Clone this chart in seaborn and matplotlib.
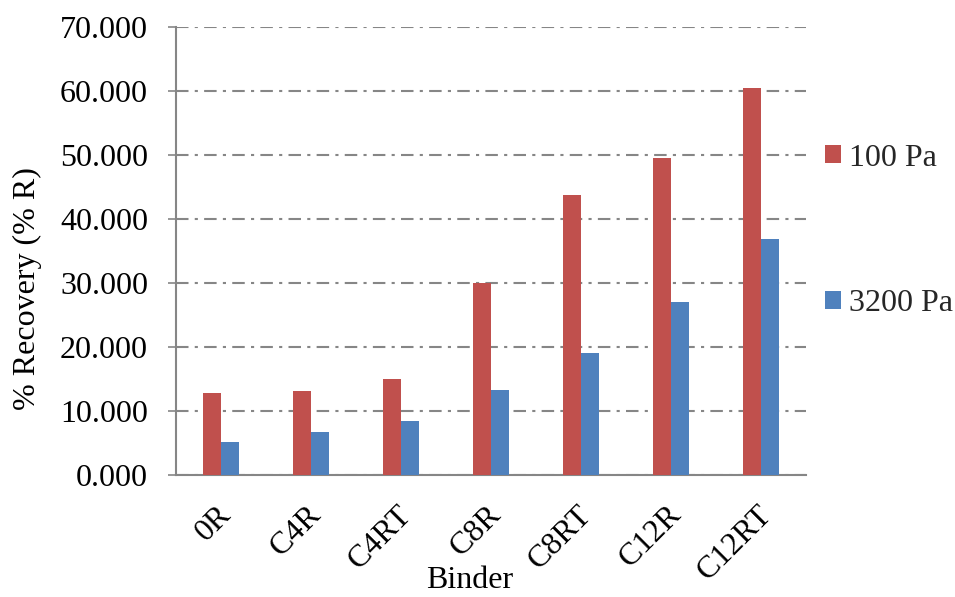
import matplotlib
matplotlib.use("Agg")
import matplotlib.pyplot as plt
import matplotlib.transforms as mtransforms
import seaborn as sns
import pandas as pd
from matplotlib.ticker import FormatStrFormatter

binders = ["0R", "C4R", "C4RT", "C8R", "C8RT", "C12R", "C12RT"]
series_names = ["100 Pa", "3200 Pa"]
vals_100 = [12.8, 13.1, 15.0, 30.0, 43.8, 49.5, 60.5]
vals_3200 = [5.1, 6.7, 8.5, 13.2, 19.1, 27.0, 36.9]
colors = ["#C0504D", "#4F81BD"]

df = pd.DataFrame({
    "Binder": binders * 2,
    "Stress": [series_names[0]] * len(binders) + [series_names[1]] * len(binders),
    "Recovery": vals_100 + vals_3200,
})

sns.set_theme(style="white")
plt.rcParams["font.family"] = ["Liberation Serif", "DejaVu Serif"]

FS = 23
fig = plt.figure(figsize=(9.55, 5.97), dpi=100)
ax = fig.add_axes([0.184, 0.2044, 0.66, 0.7504])

sns.barplot(data=df, x="Binder", y="Recovery", hue="Stress",
            palette=colors, width=0.4, gap=0, saturation=1,
            edgecolor="none", ax=ax, zorder=3)

ax.set_ylim(0, 70)
ax.set_yticks(range(0, 71, 10))
ax.yaxis.set_major_formatter(FormatStrFormatter("%.3f"))
ax.set_xlim(-0.5, len(binders) - 0.5)

ax.grid(axis="y", color="#868686", linestyle=(0, (6, 3, 1.5, 3)), linewidth=1.5, zorder=0)
ax.grid(axis="x", visible=False)
for s in ["top", "right"]:
    ax.spines[s].set_visible(False)
for s in ["left", "bottom"]:
    ax.spines[s].set_color("#868686")
    ax.spines[s].set_linewidth(1.5)

ax.tick_params(axis="y", left=True, length=6, width=1.2, color="#868686",
               labelsize=FS, pad=14, labelcolor="black")
ax.tick_params(axis="x", bottom=False, labelsize=FS, pad=12, labelcolor="black")
shift = mtransforms.ScaledTranslation(-4 / 100, 0, fig.dpi_scale_trans)
for lbl in ax.get_xticklabels():
    lbl.set_rotation(45)
    lbl.set_ha("right")
    lbl.set_rotation_mode("anchor")
    lbl.set_transform(lbl.get_transform() + shift)

ax.set_xlabel("Binder", fontsize=FS, color="black")
ax.xaxis.set_label_coords(0.467, -0.2685)
ax.xaxis.label.set_verticalalignment("bottom")
ax.set_ylabel("% Recovery (% R)", fontsize=FS, color="black")
ax.yaxis.set_label_coords(-0.235, 0.415)
ax.yaxis.label.set_verticalalignment("center")

handles, labels = ax.get_legend_handles_labels()
ax.legend(handles, labels, loc="center left", bbox_to_anchor=(1.0, 0.545),
          frameon=False, fontsize=FS, labelspacing=3.65, borderpad=0,
          handlelength=0.5, handleheight=0.5, handletextpad=0.25, borderaxespad=0.6)

fig.savefig("out.png", dpi=100)
